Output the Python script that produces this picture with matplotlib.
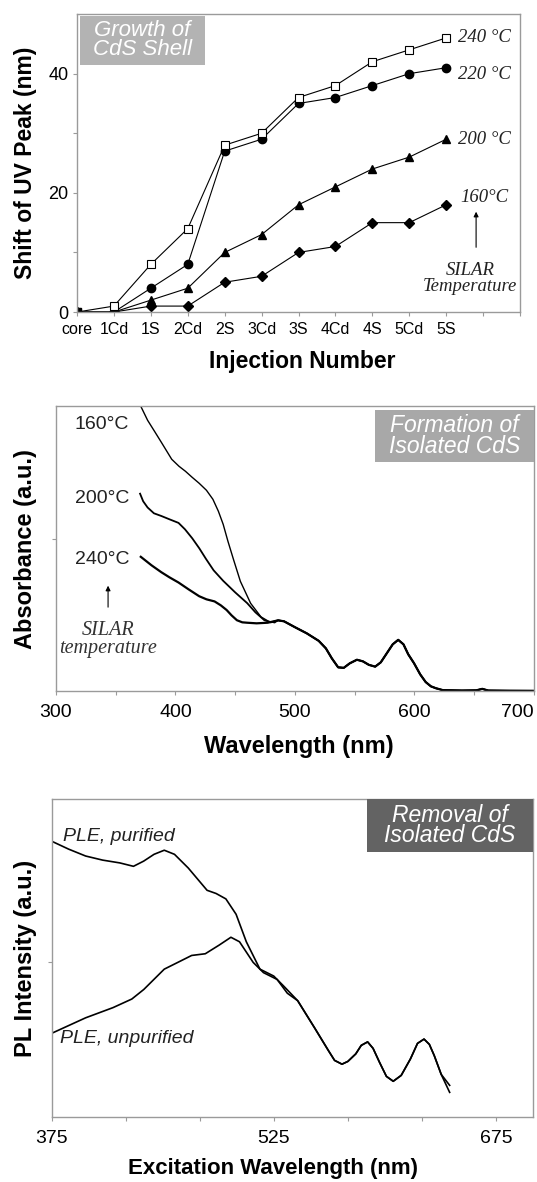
import matplotlib
matplotlib.use("Agg")
import matplotlib.pyplot as plt
from matplotlib.patches import Rectangle

plt.rcParams['font.family'] = ['Liberation Sans', 'DejaVu Sans']

# ---- panel 1: shift of UV peak vs injection number ----
injections = ['core', '1Cd', '1S', '2Cd', '2S', '3Cd', '3S', '4Cd', '4S', '5Cd', '5S']
shift_240 = [0, 1, 8, 14, 28, 30, 36, 38, 42, 44, 46]
shift_220 = [0, 0, 4, 8, 27, 29, 35, 36, 38, 40, 41]
shift_200 = [0, 0, 2, 4, 10, 13, 18, 21, 24, 26, 29]
shift_160 = [0, 0, 1, 1, 5, 6, 10, 11, 15, 15, 18]

# ---- panel 2: absorbance spectra (a.u.) ----
wl_160 = [371, 376.7, 383, 388.2, 396.9, 403, 408.4, 414, 419.9, 426, 431.4, 436, 440, 444,
          448.6, 454.4, 463, 471.6, 478, 483.1]
abs_160 = [2.85, 2.71, 2.59, 2.49, 2.32, 2.25, 2.20, 2.14, 2.08, 2.01, 1.92, 1.80, 1.67, 1.50,
           1.32, 1.10, 0.88, 0.745, 0.70, 0.686]
wl_200 = [370.4, 373, 376.7, 382, 388.2, 395, 402.6, 408, 414.1, 420, 425.6, 432, 440, 450,
          460.1, 467, 474.5, 480]
abs_200 = [1.976, 1.90, 1.838, 1.78, 1.753, 1.72, 1.684, 1.62, 1.53, 1.43, 1.324, 1.21, 1.105,
           0.99, 0.882, 0.79, 0.711, 0.69]
wl_240 = [371, 380, 388.2, 395, 402.6, 411, 419.9, 426, 432.8, 438, 442.9, 447, 451.5, 456,
          460.1, 468, 477.3]
abs_240 = [1.345, 1.26, 1.191, 1.14, 1.088, 1.02, 0.951, 0.92, 0.899, 0.86, 0.813, 0.76, 0.711,
           0.69, 0.686, 0.68, 0.686]
wl_common = [486, 491, 500, 510, 520, 526, 531, 536.3, 541, 546, 552, 557, 562, 567.3, 572,
             577, 582, 586.6, 591, 595, 599.8, 605, 609.6, 614, 618.2, 624, 640, 652, 657, 662,
             680, 700]
abs_common = [0.71, 0.70, 0.642, 0.58, 0.505, 0.43, 0.33, 0.24, 0.235, 0.28, 0.316, 0.30, 0.265,
              0.247, 0.29, 0.38, 0.47, 0.515, 0.47, 0.37, 0.282, 0.17, 0.093, 0.05, 0.031, 0.012,
              0.008, 0.01, 0.025, 0.008, 0.006, 0.005]

# ---- panel 3: PLE spectra (a.u.) ----
wl_pur = [375, 386.4, 397.9, 409.4, 421, 430.2, 437.1, 444.1, 451, 457.9, 467.2, 479.9, 486,
          492.6, 499.5, 506.4, 515.6, 524.9, 531.8]
ple_pur = [2.763, 2.684, 2.615, 2.574, 2.546, 2.512, 2.564, 2.632, 2.673, 2.632, 2.495, 2.272, 2.24,
           2.186, 2.032, 1.757, 1.483, 1.414, 1.311]
wl_unpur = [375, 397.9, 416.4, 429.1, 437.2, 451, 460.2, 469.5, 478.7, 488, 496, 501.8, 511, 518,
            527.2, 534.1]
ple_unpur = [0.841, 0.996, 1.098, 1.184, 1.28, 1.483, 1.551, 1.62, 1.637, 1.723, 1.802, 1.757,
             1.551, 1.448, 1.38, 1.242]
wl_tail = [541.1, 552.6, 561.8, 566, 571, 575, 580.3, 584, 588.3, 592, 596.4, 601, 605.6, 611,
           617.2, 622, 626.4, 630, 633.3, 638, 643.7]
ple_tail = [1.167, 0.893, 0.669, 0.57, 0.532, 0.56, 0.635, 0.72, 0.755, 0.69, 0.549, 0.41,
            0.361, 0.42, 0.584, 0.74, 0.783, 0.73, 0.618, 0.43, 0.25]
ple_tail_unpur_end = 0.32

spine_col = '#9a9a9a'
fig = plt.figure(figsize=(5.37, 11.82), dpi=100)


def style_axes(ax):
    for s in ax.spines.values():
        s.set_color(spine_col)
        s.set_linewidth(1.0)
    ax.tick_params(which='both', direction='out', color=spine_col, length=3, width=0.8)


def title_box(ax, x0, y0, x1, y1, color, text, size):
    ax.add_patch(Rectangle((x0, y0), x1 - x0, y1 - y0, transform=ax.transAxes,
                           facecolor=color, edgecolor='none', clip_on=False, zorder=5))
    ax.text((x0 + x1) / 2, (y0 + y1) / 2, text, transform=ax.transAxes, ha='center',
            va='center', color='white', fontsize=size, style='italic', linespacing=0.85,
            zorder=6)


# ======== top panel ========
ax1 = fig.add_axes([0.1434, 0.7360, 0.825, 0.2521])
style_axes(ax1)
x = list(range(len(injections)))
mk = dict(color='black', lw=0.8)
ax1.plot(x, shift_160, marker='D', ms=5, mfc='black', mec='black', **mk)
ax1.plot(x, shift_200, marker='^', ms=6, mfc='black', mec='black', **mk)
ax1.plot(x, shift_220, marker='o', ms=6, mfc='black', mec='black', **mk)
ax1.plot(x, shift_240, marker='s', ms=5.5, mfc='white', mec='black', mew=0.8, **mk)
ax1.plot(x[:1], shift_160[:1], marker='s', ms=6, color='black', lw=0)
ax1.set_xlim(0, 12)
ax1.set_ylim(0, 50)
ax1.set_xticks(range(13))
ax1.set_xticklabels(injections + ['', ''], fontsize=11.5)
ax1.set_yticks([0, 10, 20, 30, 40])
ax1.set_yticklabels(['0', '', '20', '', '40'], fontsize=13)
ax1.tick_params(axis='x', pad=4)
ax1.tick_params(axis='y', pad=3)
ax1.set_xlabel('Injection Number', fontsize=16.5, fontweight='bold')
ax1.xaxis.set_label_coords(0.508, -0.128)
ax1.set_ylabel('Shift of UV Peak (nm)', fontsize=16.5, fontweight='bold')
ax1.yaxis.set_label_coords(-0.09, 0.5)

serif = dict(family=['Liberation Serif', 'DejaVu Serif'], style='italic', fontsize=13.5,
             color='#222222')
ax1.text(10.33, 46.0, '240 °C', va='center', ha='left', **serif)
ax1.text(10.33, 39.9, '220 °C', va='center', ha='left', **serif)
ax1.text(10.33, 28.9, '200 °C', va='center', ha='left', **serif)
ax1.text(10.38, 19.3, '160°C', va='center', ha='left', **serif)
ax1.annotate('', xy=(10.81, 17.3), xytext=(10.81, 10.4),
             arrowprops=dict(arrowstyle='-|>', color='black', lw=0.8, mutation_scale=7))
ax1.text(10.65, 5.6, 'SILAR\nTemperature', va='center', ha='center', linespacing=0.95,
         **serif)
title_box(ax1, 0.007, 0.829, 0.289, 0.995, '#b3b3b3', 'Growth of\nCdS Shell', 16)

# ======== middle panel ========
ax2 = fig.add_axes([0.1043, 0.4151, 0.8894, 0.2412])
style_axes(ax2)
ax2.plot(wl_160 + wl_common, abs_160 + abs_common, color='black', lw=1.0)
ax2.plot(wl_200 + wl_common, abs_200 + abs_common, color='black', lw=1.3)
ax2.plot(wl_240 + wl_common, abs_240 + abs_common, color='black', lw=1.6)
ax2.set_xlim(300, 700)
ax2.set_ylim(0, 2.85)
ax2.set_xticks([300, 400, 500, 600, 700])
ax2.set_xticks([350, 450, 550, 650], minor=True)
ax2.set_yticks([1.52])
ax2.set_yticklabels([''])
ax2.tick_params(axis='x', labelsize=14, pad=6)
ax2.get_xticklabels()[-1].set_horizontalalignment('right')
ax2.set_xlabel('Wavelength (nm)', fontsize=17, fontweight='bold')
ax2.xaxis.set_label_coords(0.508, -0.152)
ax2.set_ylabel('Absorbance (a.u.)', fontsize=17, fontweight='bold')
ax2.yaxis.set_label_coords(-0.04, 0.5)

ax2.text(315.9, 2.664, '160°C', va='center', ha='left', fontsize=14, color='#222222')
ax2.text(316.3, 1.924, '200°C', va='center', ha='left', fontsize=14, color='#222222')
ax2.text(316.3, 1.314, '240°C', va='center', ha='left', fontsize=14, color='#222222')
ax2.annotate('', xy=(343.6, 1.084), xytext=(343.6, 0.814),
             arrowprops=dict(arrowstyle='-|>', color='black', lw=0.8, mutation_scale=7))
ax2.text(343.6, 0.52, 'SILAR\ntemperature', va='center', ha='center', linespacing=0.95,
         family=['Liberation Serif', 'DejaVu Serif'], style='italic', fontsize=14.5,
         color='#333333')
title_box(ax2, 0.668, 0.804, 1.0, 0.988, '#a8a8a8', 'Formation of\nIsolated CdS', 16.5)

# ======== bottom panel ========
ax3 = fig.add_axes([0.0963, 0.0547, 0.8963, 0.2697])
style_axes(ax3)
ax3.plot(wl_pur + wl_tail, ple_pur + ple_tail, color='black', lw=1.2)
ax3.plot(wl_unpur + wl_tail, ple_unpur + ple_tail[:-1] + [ple_tail_unpur_end],
         color='black', lw=1.2)
ax3.set_xlim(375, 700)
ax3.set_ylim(0, 3.19)
ax3.set_xticks([375, 525, 675])
ax3.set_xticks([425, 475, 575, 625], minor=True)
ax3.set_yticks([1.55])
ax3.set_yticklabels([''])
ax3.tick_params(axis='x', labelsize=14, pad=6)
ax3.set_xlabel('Excitation Wavelength (nm)', fontsize=16, fontweight='bold')
ax3.xaxis.set_label_coords(0.46, -0.128)
ax3.set_ylabel('PL Intensity (a.u.)', fontsize=17, fontweight='bold')
ax3.yaxis.set_label_coords(-0.031, 0.5)

ax3.text(382.6, 2.806, 'PLE, purified', va='center', ha='left', fontsize=14,
         style='italic', color='#222222')
ax3.text(380.6, 0.793, 'PLE, unpurified', va='center', ha='left', fontsize=14,
         style='italic', color='#222222')
title_box(ax3, 0.655, 0.831, 1.0, 1.0, '#636363', 'Removal of\nIsolated CdS', 16.5)

fig.savefig('out.png', dpi=100)
